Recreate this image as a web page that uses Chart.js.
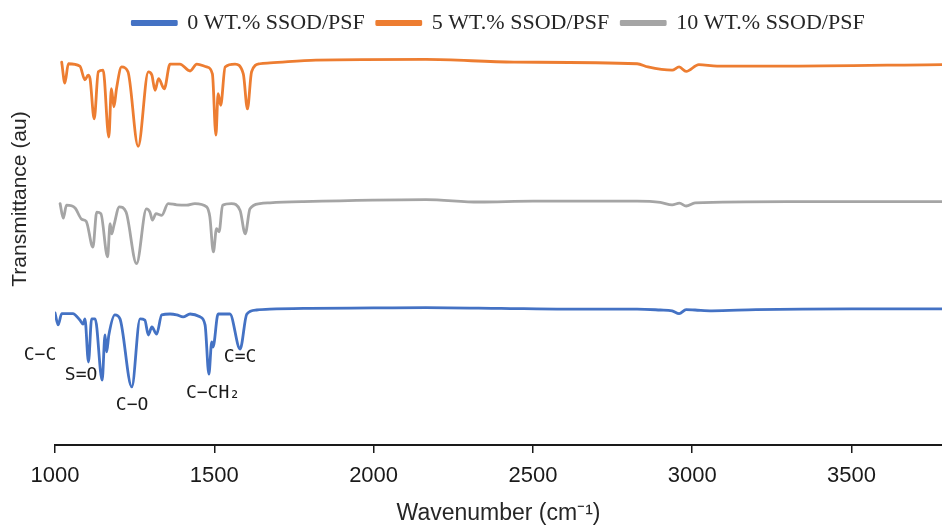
<!DOCTYPE html>
<html>
<head>
<meta charset="utf-8">
<script src="https://cdn.jsdelivr.net/npm/chart.js@4/dist/chart.umd.min.js"></script>
<style>
  html, body { margin: 0; padding: 0; background: #ffffff; }
  #wrap { width: 942px; height: 530px; position: relative; }
</style>
</head>
<body>
<div id="wrap"><canvas id="c" width="942" height="530"></canvas></div>
<script>
// ---- Data (wavenumber cm^-1, transmittance in arbitrary units, curves offset) ----
const seriesNames = ["0 WT.% SSOD/PSF", "5 WT.% SSOD/PSF", "10 WT.% SSOD/PSF"];

const wn0 = [1000, 1010, 1021, 1056, 1078, 1088, 1094, 1105, 1115, 1126, 1148, 1157, 1162, 1169, 1188, 1204, 1241, 1267, 1282, 1293, 1304, 1319, 1335, 1361, 1382, 1402, 1424, 1455, 1471, 1483, 1492, 1496, 1512, 1549, 1581, 1602, 1633, 1675, 1800, 2000, 2164, 2400, 2600, 2827, 2900, 2937, 2959, 2981, 3009, 3062, 3200, 3500, 3784];
const t0  = [32.8, 29.8, 32.6, 32.6, 31.0, 30.0, 31.3, 20.6, 31.3, 31.3, 16.1, 27.3, 23.1, 27.3, 32.3, 31.3, 14.4, 31.3, 31.0, 27.3, 29.3, 27.5, 32.3, 32.5, 32.3, 31.8, 32.5, 31.8, 29.8, 17.6, 25.6, 24.3, 32.5, 32.5, 23.8, 32.5, 33.5, 33.7, 33.9, 34.0, 34.1, 33.9, 33.7, 33.7, 33.5, 33.3, 32.6, 33.6, 33.5, 33.3, 33.6, 33.8, 33.8];

const wn5 = [1021, 1031, 1042, 1078, 1094, 1104, 1110, 1123, 1136, 1151, 1169, 1177, 1185, 1193, 1209, 1229, 1261, 1293, 1304, 1314, 1325, 1343, 1361, 1392, 1424, 1445, 1476, 1494, 1505, 1512, 1520, 1534, 1565, 1591, 1604, 1617, 1643, 1675, 1819, 2164, 2441, 2827, 2861, 2937, 2959, 2981, 3021, 3078, 3269, 3784];
const t5  = [95.0, 89.8, 94.6, 94.0, 90.6, 91.8, 90.9, 80.9, 92.6, 93.0, 76.4, 88.4, 83.9, 88.4, 93.8, 92.6, 74.1, 92.6, 91.8, 88.0, 90.9, 88.4, 94.5, 94.5, 92.8, 94.5, 93.8, 92.1, 76.9, 87.2, 84.3, 93.8, 94.5, 92.1, 83.4, 92.6, 94.6, 94.8, 95.5, 95.7, 95.0, 94.6, 93.8, 93.0, 93.8, 92.7, 94.4, 94.0, 94.0, 94.4];

const wn10 = [1016, 1026, 1036, 1063, 1084, 1098, 1119, 1131, 1144, 1165, 1173, 1178, 1185, 1202, 1223, 1256, 1287, 1298, 1306, 1317, 1335, 1355, 1382, 1413, 1439, 1476, 1486, 1497, 1507, 1515, 1526, 1554, 1581, 1597, 1612, 1643, 1675, 1780, 2164, 2331, 2500, 2827, 2900, 2937, 2960, 2981, 3009, 3300, 3784];
const t10  = [59.9, 56.3, 59.5, 58.8, 56.0, 55.5, 49.1, 57.8, 57.4, 46.7, 54.9, 52.4, 54.5, 59.1, 57.8, 45.0, 58.6, 57.8, 55.8, 57.4, 57.0, 59.9, 59.6, 59.5, 59.9, 59.1, 56.6, 47.9, 53.7, 52.9, 59.5, 59.9, 58.2, 52.4, 58.6, 59.9, 60.1, 60.4, 60.9, 60.3, 60.5, 60.5, 60.2, 59.6, 60.0, 59.3, 60.1, 60.4, 60.4];

const xTicks = [1000, 1500, 2000, 2500, 3000, 3500];
const xTitle = "Wavenumber (cm\u207B\u00B9)";
const yTitle = "Transmittance (au)";

// Band assignments (label, wavenumber, transmittance level)
const bandLabels = ["C\u2212C", "S=O", "C\u2212O", "C\u2212CH\u2082", "C=C"];
const bandWn     = [953, 1082, 1242, 1496, 1581];
const bandT      = [22.3, 17.4, 9.9, 12.7, 21.8];

const colors = ["#4472C4", "#ED7D31", "#A5A5A5"];

function toPoints(xs, ys) { return xs.map((x, i) => ({ x: x, y: ys[i] })); }

const bandPlugin = {
  id: 'bands',
  afterDatasetsDraw(chart) {
    const { ctx, scales } = chart;
    ctx.save();
    ctx.font = "18px 'DejaVu Sans Mono', monospace";
    ctx.fillStyle = "#1a1a1a";
    ctx.textAlign = "center";
    ctx.textBaseline = "middle";
    bandLabels.forEach((lab, i) => {
      ctx.fillText(lab, scales.x.getPixelForValue(bandWn[i]), scales.y.getPixelForValue(bandT[i]));
    });
    ctx.restore();
  }
};

const yTitlePlugin = {
  id: 'yTitle',
  afterDraw(chart) {
    const { ctx } = chart;
    ctx.save();
    ctx.translate(20, 199);
    ctx.rotate(-Math.PI / 2);
    ctx.font = "21px 'Liberation Sans', Arial, sans-serif";
    ctx.fillStyle = "#262626";
    ctx.textAlign = "center";
    ctx.textBaseline = "middle";
    ctx.fillText(yTitle, 0, 0);
    ctx.restore();
  }
};

new Chart(document.getElementById('c'), {
  type: 'line',
  data: {
    datasets: [
      { label: seriesNames[0], data: toPoints(wn0, t0),  borderColor: colors[0], backgroundColor: colors[0] },
      { label: seriesNames[1], data: toPoints(wn5, t5),  borderColor: colors[1], backgroundColor: colors[1] },
      { label: seriesNames[2], data: toPoints(wn10, t10), borderColor: colors[2], backgroundColor: colors[2] }
    ]
  },
  options: {
    responsive: false,
    animation: false,
    layout: { padding: { left: 55, right: 0, top: 0, bottom: 0 } },
    elements: {
      point: { radius: 0 },
      line: { borderWidth: 2.8, cubicInterpolationMode: 'monotone', borderJoinStyle: 'round', borderCapStyle: 'round' }
    },
    plugins: {
      legend: {
        position: 'top',
        labels: {
          boxWidth: 44,
          boxHeight: 3,
          padding: 12,
          color: '#262626',
          font: { family: "'Liberation Serif', 'Times New Roman', serif", size: 22 }
        }
      },
      tooltip: { enabled: false }
    },
    scales: {
      x: {
        type: 'linear',
        min: 1000,
        max: 3784,
        afterBuildTicks(scale) { scale.ticks = xTicks.map(v => ({ value: v })); },
        ticks: {
          includeBounds: false,
          padding: 10,
          color: '#1a1a1a',
          font: { family: "'Liberation Sans Narrow', 'Liberation Sans', sans-serif", size: 22 },
          maxRotation: 0,
          callback: (v) => String(v)
        },
        grid: { display: true, drawOnChartArea: false, drawTicks: true, tickLength: 8, color: '#1a1a1a', lineWidth: 1.5 },
        border: { display: true, color: '#1a1a1a', width: 2 },
        title: {
          display: true,
          text: xTitle,
          color: '#262626',
          font: { family: "'Liberation Sans', Arial, sans-serif", size: 23 },
          padding: { top: 0, bottom: 3 }
        }
      },
      y: {
        display: false,
        min: 0,
        max: 99.5
      }
    }
  },
  plugins: [bandPlugin, yTitlePlugin]
});
</script>
</body>
</html>
